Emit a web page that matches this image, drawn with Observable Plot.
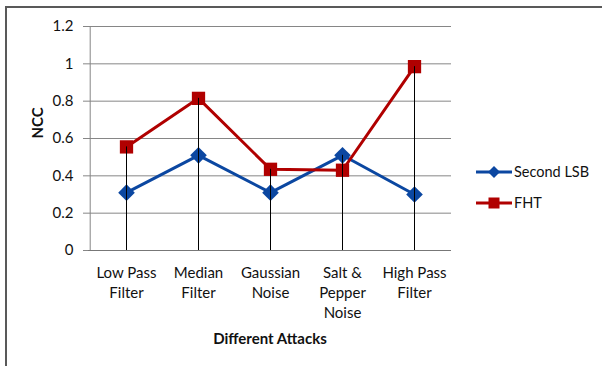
<!DOCTYPE html>
<html>
<head>
<meta charset="utf-8">
<script src="https://cdn.jsdelivr.net/npm/d3@7"></script>
<script src="https://cdn.jsdelivr.net/npm/@observablehq/plot@0.6"></script>
<style>
  html, body { margin: 0; padding: 0; background: #fff; overflow: hidden; }
  #wrap { position: relative; width: 602px; height: 366px; font-family: Lato, "Open Sans", sans-serif; }
  #frame { position: absolute; left: 5px; top: 6px; width: 700px; height: 500px;
           border-top: 2px solid #595959; border-left: 2px solid #595959; }
  #chart { position: absolute; left: 0; top: 0; }
  .legend { position: absolute; left: 476px; font-size: 14.5px; color: #111; display: flex; align-items: center; }
  .legend svg { margin-right: 2px; }
</style>
</head>
<body>
<div id="wrap">
  <div id="frame"></div>
  <div id="chart"></div>
  <div class="legend" style="top:163px">
    <svg width="36" height="14"><line x1="0" y1="7" x2="36" y2="7" stroke="#0B47A1" stroke-width="3"/><path d="M18 1 L24 7 L18 13 L12 7 Z" fill="#0B47A1"/></svg>Second LSB
  </div>
  <div class="legend" style="top:194px">
    <svg width="36" height="14"><line x1="0" y1="7" x2="36" y2="7" stroke="#B00000" stroke-width="3"/><rect x="12.5" y="1.5" width="11" height="11" fill="#B00000"/></svg>FHT
  </div>
</div>
<script>
// Attack categories along the x axis
const attacks = ["Low Pass\nFilter", "Median\nFilter", "Gaussian\nNoise", "Salt &\nPepper\nNoise", "High Pass\nFilter"];
// NCC values per watermarking method
const secondLsb = [0.31, 0.51, 0.31, 0.51, 0.30];
const fht = [0.555, 0.815, 0.435, 0.43, 0.985];
// Y axis ticks
const yTicks = [0, 0.2, 0.4, 0.6, 0.8, 1, 1.2];

const lsbData = attacks.map((a, i) => ({attack: a, ncc: secondLsb[i]}));
const fhtData = attacks.map((a, i) => ({attack: a, ncc: fht[i]}));
const dropData = attacks.map((a, i) => ({attack: a, top: Math.max(secondLsb[i], fht[i])}));

const blue = "#0B47A1";
const red = "#B00000";

const W = 602, ML = 88, MR = 151;
const step = (W - ML - MR) / attacks.length;

const chart = Plot.plot({
  width: W,
  height: 366,
  marginLeft: ML,
  marginRight: MR,
  marginTop: 26,
  marginBottom: 116,
  style: {fontFamily: "Lato, 'Open Sans', sans-serif", fontSize: "15px", color: "#111", background: "transparent"},
  x: {type: "point", domain: attacks, padding: 0.5},
  y: {domain: [0, 1.2]},
  marks: [
    // horizontal gridlines
    Plot.ruleY(yTicks.filter(d => d > 0), {stroke: "#868686", strokeWidth: 1}),
    Plot.axisY({ticks: yTicks, tickFormat: d => String(d), tickSize: 5, tickPadding: 10, stroke: "#868686", strokeOpacity: 1, label: null}),
    // vertical value axis line, half a category step left of the first category
    Plot.ruleX(attacks.slice(0, 1), {x: d => d, dx: -step / 2, y1: 0, y2: 1.2, stroke: "#868686"}),
    Plot.axisX({tickSize: 0, tickPadding: 13, lineHeight: 1.35, label: null}),
    Plot.ruleY([0], {stroke: "#777"}),
    Plot.line(lsbData, {x: "attack", y: "ncc", stroke: blue, strokeWidth: 3}),
    Plot.line(fhtData, {x: "attack", y: "ncc", stroke: red, strokeWidth: 3}),
    Plot.dot(lsbData, {x: "attack", y: "ncc", symbol: "diamond2", r: 7.5, fill: blue}),
    Plot.dot(fhtData, {x: "attack", y: "ncc", symbol: "square", r: 7.5, fill: red}),
    // drop lines from the higher point of each category down to zero
    Plot.ruleX(dropData, {x: "attack", y1: 0, y2: "top", stroke: "#000", strokeWidth: 1}),
    Plot.text(["NCC"], {frameAnchor: "left", dx: -50, rotate: -90, fontWeight: "bold", fontSize: 15}),
    Plot.text(["Different Attacks"], {frameAnchor: "bottom", dy: 93, fontWeight: "bold", fontSize: 15})
  ]
});
document.getElementById("chart").appendChild(chart);
</script>
</body>
</html>
